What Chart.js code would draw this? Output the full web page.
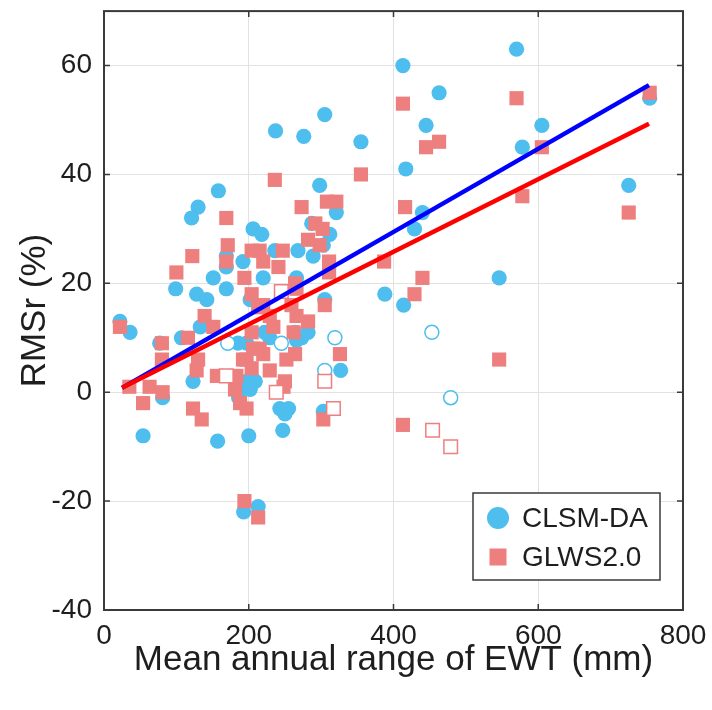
<!DOCTYPE html>
<html>
<head>
<meta charset="utf-8">
<script src="https://cdn.jsdelivr.net/npm/chart.js@4.4.0/dist/chart.umd.min.js"></script>
<style>
  html, body { margin: 0; padding: 0; background: #fff; }
  #wrap { width: 712px; height: 710px; }
</style>
</head>
<body>
<div id="wrap"><canvas id="chart" width="712" height="710"></canvas></div>
<script>
// tick labels and series names
const xTicks = [0, 200, 400, 600, 800]
const yTicks = [-40, -20, 0, 20, 40, 60]
const seriesNames = ['CLSM-DA', 'GLWS2.0']

// CLSM-DA, filled circles [EWT range (mm), RMSr (%)]
const clsmDA = [
    [570, 63], [413, 60], [463, 55], [754, 54], [305, 51], [445, 49], [605, 49], [237, 48],
    [276, 47], [355, 46], [578, 45], [417, 41], [298, 38], [725, 38], [158, 37], [130, 34],
    [440, 33], [321, 33], [121, 32], [287, 31], [206, 30], [429, 30], [218, 29], [312, 29],
    [303, 27], [268, 26], [236, 26], [289, 25], [169, 25], [192, 24], [169, 23], [151, 21],
    [220, 21], [266, 21], [546, 21], [99, 19], [169, 19], [128, 18], [388, 18], [142, 17],
    [202, 17], [305, 17], [414, 16], [22, 13], [133, 12], [36, 11], [264, 11], [282, 11],
    [222, 11], [107, 10], [273, 10], [185, 9], [197, 9], [229, 10], [77, 9], [266, 9.5],
    [327, 4], [123, 2], [197, 2], [209, 2], [192, 1], [202, 0.5], [81, -1], [186, -1],
    [243, -3], [255, -3], [303, -3.5], [250, -4], [247, -7], [200, -8], [54, -8], [157, -9],
    [193, -22], [213, -21]
]
// CLSM-DA, open circles
const clsmDAOpen = [[171, 9], [245, 9], [319, 10], [453, 11], [305, 4], [479, -1]]

// GLWS2.0, filled squares
const glws = [
    [570, 54], [754, 55], [413, 53], [463, 46], [445, 45], [605, 45], [355, 40], [236, 39],
    [578, 36], [308, 35], [321, 35], [273, 34], [416, 34], [725, 33], [169, 32], [282, 28],
    [292, 31], [302, 30], [298, 27], [171, 27], [204, 26], [215, 26], [247, 26], [122, 25],
    [169, 24], [220, 24], [311, 24], [387, 24], [241, 23], [100, 22], [194, 21], [311, 22],
    [440, 21], [264, 20], [266, 19], [204, 18], [429, 18], [220, 16], [259, 16], [305, 16],
    [213, 15.6], [139, 14], [229, 14], [266, 14], [282, 13], [151, 12], [234, 12], [22, 12],
    [262, 11], [116, 10], [204, 11], [80, 9], [206, 8], [215, 8], [220, 7], [326, 7],
    [264, 7], [80, 6], [130, 6], [192, 6], [197, 6], [252, 6], [546, 6], [128, 4],
    [204, 4.4], [229, 4], [156, 3], [183, 3], [250, 2], [63, 1], [35, 1], [248, 1],
    [181, 0.5], [81, 0], [54, -2], [188, -2], [197, -3], [123, -3], [135, -5], [303, -5],
    [413, -6], [194, -20], [213, -23]
]
// GLWS2.0, open squares
const glwsOpen = [[245, 18.5], [169, 3], [238, 0], [305, 2], [317, -3], [454, -7], [479, -10]]

// fitted lines (end points)
const fitClsmDA = [[25, 0.8], [753, 56.4]]
const fitGlws = [[25, 0.8], [753, 49.3]]

const corCLSM = 'rgb(77,190,238)'
const corGLWS = 'rgb(238,127,127)'
const corTexto = '#1e1e1e'
const fonte = "'Liberation Sans', Arial, Helvetica, sans-serif"

Chart.defaults.font.family = fonte
Chart.defaults.color = corTexto

function pontos(arr) {
    return arr.map(p => ({ x: p[0], y: p[1] }))
}

const molduraEixos = {
    id: 'molduraEixos',
    afterDraw(chart) {
        const { ctx, chartArea: a, scales } = chart
        ctx.save()
        ctx.strokeStyle = '#3a3a3a'
        ctx.lineWidth = 1.5
        ctx.beginPath()
        xTicks.forEach(v => {
            const px = scales.x.getPixelForValue(v)
            ctx.moveTo(px, a.bottom); ctx.lineTo(px, a.bottom - 6)
            ctx.moveTo(px, a.top); ctx.lineTo(px, a.top + 6)
        })
        yTicks.forEach(v => {
            const py = scales.y.getPixelForValue(v)
            ctx.moveTo(a.left, py); ctx.lineTo(a.left + 6, py)
            ctx.moveTo(a.right, py); ctx.lineTo(a.right - 6, py)
        })
        ctx.stroke()
        ctx.lineWidth = 2
        ctx.strokeRect(a.left, a.top, a.right - a.left, a.bottom - a.top)
        ctx.restore()
    }
}

const legendaCaixa = {
    id: 'legendaCaixa',
    afterDraw(chart) {
        const { ctx, chartArea: a } = chart
        const w = 187, h = 87
        const x0 = a.right - 23 - w, y0 = a.bottom - 117
        ctx.save()
        ctx.fillStyle = '#fff'
        ctx.fillRect(x0, y0, w, h)
        ctx.strokeStyle = '#3a3a3a'
        ctx.lineWidth = 1.5
        ctx.strokeRect(x0, y0, w, h)
        ctx.fillStyle = corCLSM
        ctx.beginPath()
        ctx.arc(x0 + 25, y0 + 25, 11, 0, 2 * Math.PI)
        ctx.fill()
        ctx.fillStyle = corGLWS
        ctx.fillRect(x0 + 25 - 8.5, y0 + 64 - 8.5, 17, 17)
        ctx.fillStyle = corTexto
        ctx.font = `28px ${fonte}`
        ctx.textBaseline = 'middle'
        ctx.fillText(seriesNames[0], x0 + 49, y0 + 26)
        ctx.fillText(seriesNames[1], x0 + 49, y0 + 65)
        ctx.restore()
    }
}

new Chart(document.getElementById('chart'), {
    type: 'scatter',
    data: {
        datasets: [
            {
                label: 'fit ' + seriesNames[1],
                data: pontos(fitGlws),
                showLine: true,
                borderColor: 'rgb(255,0,0)',
                borderWidth: 4.5,
                pointRadius: 0
            },
            {
                label: 'fit ' + seriesNames[0],
                data: pontos(fitClsmDA),
                showLine: true,
                borderColor: 'rgb(0,0,255)',
                borderWidth: 4.5,
                pointRadius: 0
            },
            {
                label: seriesNames[1] + ' open',
                data: pontos(glwsOpen),
                pointStyle: 'rect',
                pointRadius: 9.6,
                backgroundColor: '#fff',
                borderColor: corGLWS,
                borderWidth: 1.5
            },
            {
                label: seriesNames[0] + ' open',
                data: pontos(clsmDAOpen),
                pointStyle: 'circle',
                pointRadius: 7,
                backgroundColor: '#fff',
                borderColor: corCLSM,
                borderWidth: 1.5
            },
            {
                label: seriesNames[1],
                data: pontos(glws),
                pointStyle: 'rect',
                pointRadius: 10,
                backgroundColor: corGLWS,
                borderWidth: 0
            },
            {
                label: seriesNames[0],
                data: pontos(clsmDA),
                pointStyle: 'circle',
                pointRadius: 7.6,
                backgroundColor: corCLSM,
                borderWidth: 0
            }
        ]
    },
    options: {
        responsive: false,
        animation: false,
        devicePixelRatio: 1,
        layout: {
            padding: { left: 0, right: 29, top: 3, bottom: 0 }
        },
        plugins: {
            legend: { display: false },
            tooltip: { enabled: false }
        },
        scales: {
            x: {
                type: 'linear',
                min: 0,
                max: 800,
                afterBuildTicks: s => { s.ticks = xTicks.map(v => ({ value: v })) },
                afterFit: s => { s.height = 100; s.paddingLeft = 0; s.paddingRight = 0 },
                border: { display: false },
                grid: { color: '#e2e2e2', lineWidth: 1, drawTicks: false },
                ticks: {
                    padding: 9,
                    color: corTexto,
                    autoSkip: false,
                    maxRotation: 0,
                    font: { size: 28 }
                },
                title: {
                    display: true,
                    text: 'Mean annual range of EWT (mm)',
                    color: corTexto,
                    font: { size: 35 },
                    padding: { top: 29, bottom: 29 }
                }
            },
            y: {
                type: 'linear',
                min: -40,
                max: 70,
                afterBuildTicks: s => { s.ticks = yTicks.map(v => ({ value: v })) },
                afterFit: s => { s.width = 104; s.paddingTop = 0; s.paddingBottom = 0 },
                border: { display: false },
                grid: { color: '#e2e2e2', lineWidth: 1, drawTicks: false },
                ticks: {
                    padding: 12,
                    color: corTexto,
                    autoSkip: false,
                    font: { size: 28 }
                },
                title: {
                    display: true,
                    text: 'RMSr (%)',
                    color: corTexto,
                    font: { size: 35 },
                    padding: { top: 14, bottom: 14 }
                }
            }
        }
    },
    plugins: [molduraEixos, legendaCaixa]
})
</script>
</body>
</html>
